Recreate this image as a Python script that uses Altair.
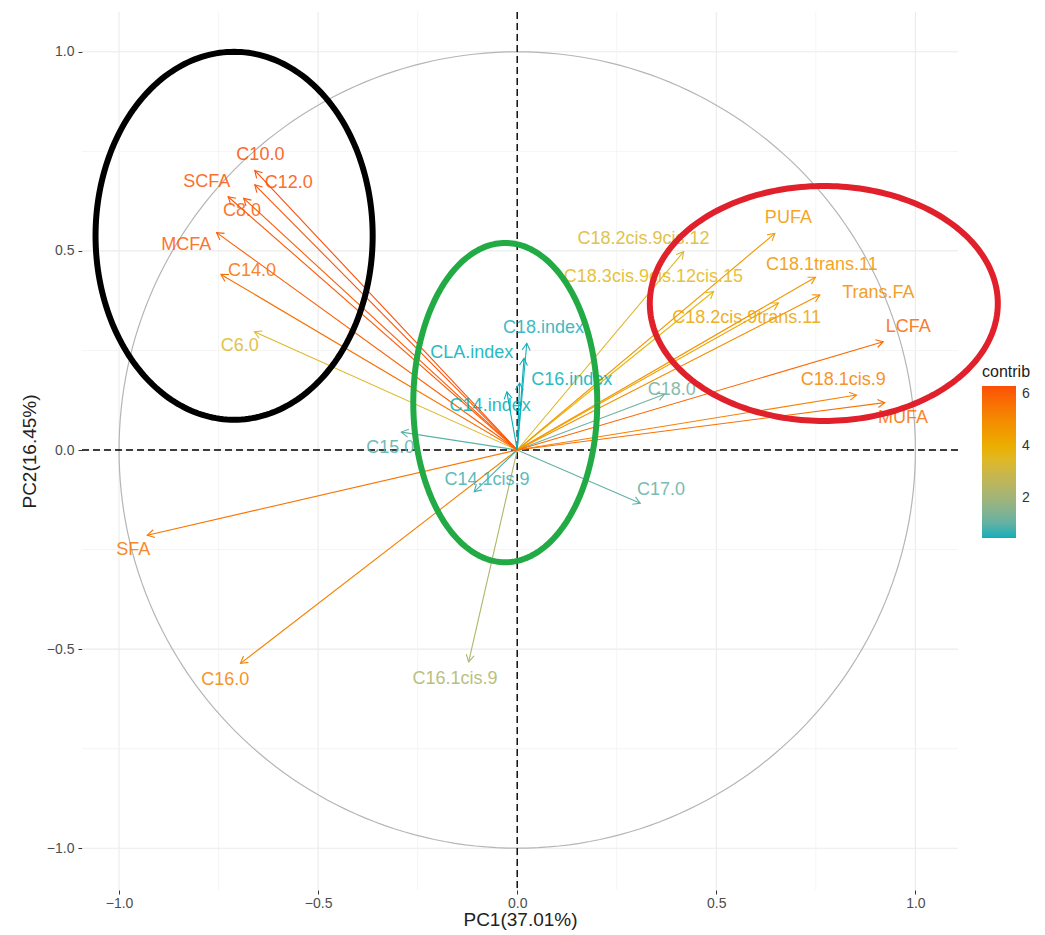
import altair as alt
import numpy as np
import pandas as pd

# ---------------- data ----------------
names = ["C6.0", "C8.0", "C10.0", "C12.0", "C14.0", "C15.0", "C16.0", "C17.0", "C18.0",
         "C14.1cis.9", "C16.1cis.9", "C18.1cis.9", "C18.1trans.11", "C18.2cis.9cis.12",
         "C18.2cis.9trans.11", "C18.3cis.9cis.12cis.15", "SFA", "MUFA", "PUFA", "SCFA",
         "MCFA", "LCFA", "Trans.FA", "C14.index", "C16.index", "C18.index", "CLA.index"]
pc1 = [-0.660, -0.687, -0.659, -0.659, -0.744, -0.291, -0.695, 0.309, 0.370,
       -0.108, -0.122, 0.852, 0.749, 0.418,
       0.656, 0.493, -0.929, 0.923, 0.647, -0.726,
       -0.755, 0.919, 0.760, -0.026, 0.006, 0.024, 0.017]
pc2 = [0.297, 0.632, 0.702, 0.666, 0.441, 0.045, -0.536, -0.134, 0.140,
       -0.105, -0.532, 0.138, 0.434, 0.498,
       0.369, 0.398, -0.214, 0.119, 0.544, 0.636,
       0.546, 0.272, 0.389, 0.146, 0.168, 0.268, 0.230]
contrib = [3.4, 6.0, 6.3, 6.2, 5.6, 0.9, 5.2, 1.0, 1.2,
           0.7, 2.3, 5.2, 4.7, 3.4,
           4.3, 3.6, 5.5, 5.6, 4.6, 6.1,
           6.0, 5.8, 4.9, 0.45, 0.45, 0.5, 0.45]
label_x = [-0.697, -0.691, -0.645, -0.574, -0.666, -0.319, -0.733, 0.361, 0.388,
           -0.076, -0.156, 0.819, 0.765, 0.317,
           0.576, 0.342, -0.964, 0.969, 0.681, -0.780,
           -0.831, 0.982, 0.907, -0.068, 0.137, 0.066, -0.114]
label_y = [0.262, 0.599, 0.741, 0.670, 0.450, 0.004, -0.578, -0.100, 0.151,
           -0.075, -0.574, 0.176, 0.465, 0.529,
           0.331, 0.434, -0.251, 0.080, 0.582, 0.672,
           0.515, 0.310, 0.394, 0.111, 0.176, 0.306, 0.243]

major_ticks = [-1.0, -0.5, 0.0, 0.5, 1.0]
minor_ticks = [-0.75, -0.25, 0.25, 0.75]
legend_ticks = [2, 4, 6]

# hand-drawn ellipses (annotation): centre x, centre y, radius x, radius y, colour
ell_names = ["black", "green", "red"]
ell_cx = [-0.711, -0.030, 0.770]
ell_cy = [0.538, 0.119, 0.368]
ell_rx = [0.348, 0.231, 0.437]
ell_ry = [0.462, 0.401, 0.295]
ell_col = ["#000000", "#22AA44", "#E0202A"]

x_title = "PC1(37.01%)"
y_title = "PC2(16.45%)"
legend_title = "contrib"
grad_cols = ["#00AFBB", "#E7B800", "#FC4E07"]

# ---------------- tables ----------------
df = pd.DataFrame({"name": names, "pc1": pc1, "pc2": pc2, "contrib": contrib,
                   "lx": label_x, "ly": label_y})
df["ox"] = 0.0
df["oy"] = 0.0
df["contrib_l"] = df["contrib"]
df["contrib_h"] = df["contrib"]
df["ang"] = (np.degrees(np.arctan2(df["pc1"], df["pc2"])) + 360) % 360

t = np.linspace(0, 2 * np.pi, 241)
circle = pd.DataFrame({"x": np.cos(t), "y": np.sin(t), "o": np.arange(len(t))})

XD = [-1.093, 1.107]
YD = [-1.105, 1.100]
FONT = "Liberation Sans"

xs = alt.Scale(domain=XD, nice=False, zero=False)
ys = alt.Scale(domain=YD, nice=False, zero=False)

x_axis = alt.Axis(values=major_ticks, format=".1f", title=x_title, grid=False,
                  domain=False, tickSize=4, tickColor="#333333", labelPadding=2,
                  labelFontSize=14, labelColor="#4D4D4D", labelFont=FONT,
                  titleFont=FONT, titleFontSize=19, titleFontWeight="normal",
                  titleColor="#222222", titlePadding=0)
y_axis = alt.Axis(values=major_ticks, format=".1f", title=y_title, grid=False,
                  domain=False, tickSize=4, tickColor="#333333", labelPadding=4,
                  labelFontSize=14, labelColor="#4D4D4D", labelFont=FONT,
                  titleFont=FONT, titleFontSize=19, titleFontWeight="normal",
                  titleColor="#222222", titlePadding=7)


def X(f):
    return alt.X(f, scale=xs, axis=x_axis)


def Y(f):
    return alt.Y(f, scale=ys, axis=y_axis)


cmin, cmax = min(contrib), max(contrib)
cmid = 100.0 / len(names)


def cscale():
    return alt.Scale(domain=[cmin, cmid, cmax], range=grad_cols, interpolate="lab")


grid_df = pd.DataFrame({"v": major_ticks})
minor_df = pd.DataFrame({"v": minor_ticks})

major_grid_x = alt.Chart(grid_df).mark_rule(color="#EBEBEB", strokeWidth=1.1).encode(x=X("v:Q"))
major_grid_y = alt.Chart(grid_df).mark_rule(color="#EBEBEB", strokeWidth=1.1).encode(y=Y("v:Q"))
minor_grid_x = alt.Chart(minor_df).mark_rule(color="#F3F3F3", strokeWidth=0.8).encode(x=X("v:Q"))
minor_grid_y = alt.Chart(minor_df).mark_rule(color="#F3F3F3", strokeWidth=0.8).encode(y=Y("v:Q"))

circ = alt.Chart(circle).mark_line(color="#B5B5B5", strokeWidth=1.2).encode(
    x=X("x:Q"), y=Y("y:Q"), order="o:Q")

zero_df = pd.DataFrame({"v": [0.0]})
zero_x = alt.Chart(zero_df).mark_rule(color="black", strokeDash=[7, 4], strokeWidth=1.4).encode(x=X("v:Q"))
zero_y = alt.Chart(zero_df).mark_rule(color="black", strokeDash=[7, 4], strokeWidth=1.4).encode(y=Y("v:Q"))

legend = alt.Legend(title=legend_title, type="gradient", values=legend_ticks,
                    orient="none", legendX=900, legendY=352, direction="vertical",
                    gradientLength=152, gradientThickness=34, gradientStrokeWidth=0,
                    titleFont=FONT, titleFontSize=16, titleFontWeight="normal",
                    titleColor="#222222", labelFont=FONT, labelFontSize=14,
                    labelColor="#333333", titlePadding=6, labelOffset=6)

arrows = alt.Chart(df).mark_rule(strokeWidth=1.1).encode(
    x=X("ox:Q"), y=Y("oy:Q"), x2="pc1:Q", y2="pc2:Q",
    color=alt.Color("contrib:Q", scale=cscale(), legend=legend))

heads = alt.Chart(df).mark_point(
    shape="M -0.5 0.866 L 0 0 L 0.5 0.866", filled=False, size=256,
    strokeWidth=1.1, opacity=1).encode(
    x=X("pc1:Q"), y=Y("pc2:Q"),
    angle=alt.Angle("ang:Q", scale=None),
    color=alt.Color("contrib_h:Q", scale=cscale(), legend=None))

labels = alt.Chart(df).mark_text(font=FONT, fontSize=18, baseline="middle",
                                 align="center", opacity=0.85).encode(
    x=X("lx:Q"), y=Y("ly:Q"), text="name:N",
    color=alt.Color("contrib_l:Q", scale=cscale(), legend=None))

ellipse_layers = []
for n, cx, cy, rx, ry, c in zip(ell_names, ell_cx, ell_cy, ell_rx, ell_ry, ell_col):
    e = pd.DataFrame({"x": cx + rx * np.cos(t), "y": cy + ry * np.sin(t), "o": np.arange(len(t))})
    ellipse_layers.append(
        alt.Chart(e).mark_line(strokeWidth=6, color=c).encode(x=X("x:Q"), y=Y("y:Q"), order="o:Q"))

chart = alt.layer(major_grid_x, major_grid_y, minor_grid_x, minor_grid_y, circ,
                  zero_x, zero_y, arrows, heads, labels, *ellipse_layers).resolve_scale(
    color="independent").properties(
    width=876, height=878,
    autosize=alt.AutoSizeParams(type="none"),
    padding={"left": 74, "top": 4, "right": 75, "bottom": 44},
    background="white",
).configure_view(stroke=None)

chart.save("out.html", embed_options={"renderer": "svg", "actions": False})
